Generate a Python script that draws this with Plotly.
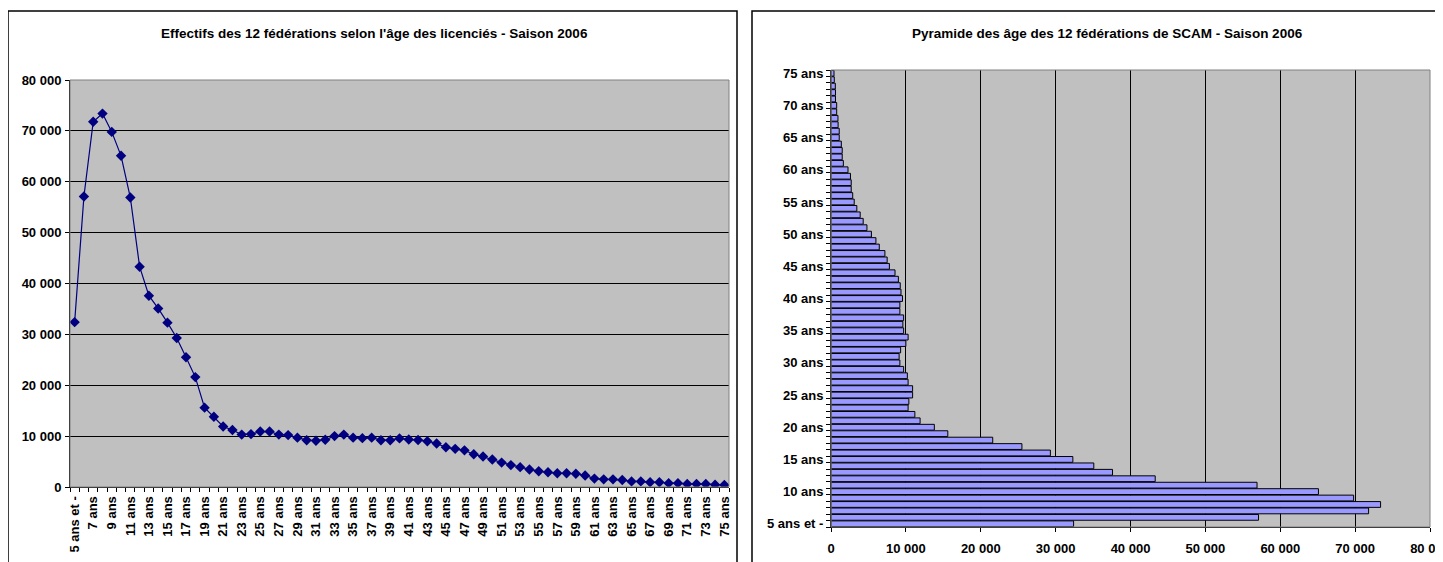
import plotly.graph_objects as go

# ---- data ----
ages = ["5 ans et -"] + [f"{a} ans" for a in range(6, 76)]
effectifs = [
    32400, 57100, 71800, 73400, 69800, 65100, 56900, 43300, 37600, 35100,  # 5-14
    32300, 29300, 25500, 21600, 15600, 13800, 11900, 11200, 10300, 10400,  # 15-24
    10900, 10900, 10300, 10200, 9700, 9200, 9100, 9300, 10000, 10300,      # 25-34
    9700, 9600, 9700, 9200, 9200, 9550, 9350, 9250, 9000, 8550,            # 35-44
    7800, 7500, 7200, 6450, 6000, 5400, 4800, 4300, 3900, 3450,            # 45-54
    3100, 2900, 2700, 2700, 2600, 2270, 1650, 1500, 1500, 1380,            # 55-64
    1100, 1100, 950, 930, 760, 760, 600, 600, 580, 440,                    # 65-74
    400,                                                                   # 75
]
left_ticktext = [a if i % 2 == 0 else "" for i, a in enumerate(ages)]
right_ticktext = [a if i % 5 == 0 else "" for i, a in enumerate(ages)]
title_left = "Effectifs des 12 fédérations selon l'âge des licenciés - Saison 2006"
title_right = "Pyramide des âge des 12 fédérations de SCAM - Saison 2006"

W, H = 1443, 562
OFF = 8  # page body margin
FONT = "Liberation Sans, Arial, sans-serif"


def px(x):
    return (x - OFF) / W


def py(y):
    return 1 - (y - OFF) / H


fig = go.Figure()

fig.add_trace(go.Scatter(
    x=ages, y=effectifs, mode="lines+markers",
    line=dict(color="#000080", width=1.2),
    marker=dict(symbol="diamond", size=8, color="#000080"),
    xaxis="x", yaxis="y", showlegend=False,
))

fig.add_trace(go.Bar(
    y=ages, x=effectifs, orientation="h",
    marker=dict(color="#9999FF", line=dict(color="#000000", width=1)),
    xaxis="x2", yaxis="y2", showlegend=False,
))

tickfont = dict(family=FONT, size=13, color="#000000", weight="bold")
titlefont = dict(family=FONT, size=13.5, color="black", weight="bold")

fig.update_layout(
    template="none",
    width=W, height=H,
    autosize=False,
    margin=dict(l=0, r=0, t=0, b=0, pad=0),
    paper_bgcolor="white",
    plot_bgcolor="#C0C0C0",
    separators=", ",
    bargap=0.1,
    xaxis=dict(
        domain=[px(70), px(729)], anchor="y", automargin=False,
        type="category", range=[-0.5, 70.5],
        tickvals=ages, ticktext=left_ticktext, tickangle=-90,
        tickson="boundaries", ticks="outside", ticklen=4, tickcolor="black",
        ticklabelstandoff=3,
        showgrid=False, showline=True, linecolor="black", linewidth=1,
        tickfont=tickfont, zeroline=False,
    ),
    yaxis=dict(
        domain=[py(487), py(80)], anchor="x", automargin=False,
        range=[0, 80000], dtick=10000, tickformat=",d",
        ticks="outside", ticklen=4, tickcolor="black",
        ticklabelstandoff=1,
        showgrid=True, gridcolor="black", gridwidth=1,
        showline=True, linecolor="black", linewidth=1,
        tickfont=tickfont, zeroline=False,
    ),
    xaxis2=dict(
        domain=[px(831), px(1430)], anchor="y2", automargin=False,
        range=[0, 80000], dtick=10000, tickformat=",d",
        ticks="outside", ticklen=4, tickcolor="black",
        ticklabelstandoff=5,
        showgrid=True, gridcolor="black", gridwidth=1,
        showline=True, linecolor="black", linewidth=1,
        tickfont=tickfont, zeroline=False,
    ),
    yaxis2=dict(
        domain=[py(527), py(70)], anchor="x2", automargin=False,
        type="category", range=[-0.5, 70.5],
        tickvals=ages, ticktext=right_ticktext,
        tickson="boundaries", ticks="outside", ticklen=4, tickcolor="black",
        ticklabelstandoff=4,
        showgrid=False, showline=True, linecolor="black", linewidth=1,
        tickfont=tickfont, zeroline=False,
    ),
    annotations=[
        dict(text=title_left, x=px(374), y=py(34), xref="paper", yref="paper",
             showarrow=False, xanchor="center", yanchor="middle",
             font=titlefont),
        dict(text=title_right, x=px(1107), y=py(34), xref="paper", yref="paper",
             showarrow=False, xanchor="center", yanchor="middle",
             font=titlefont),
    ],
    shapes=[
        # chart frames
        dict(type="rect", xref="paper", yref="paper",
             x0=px(8), x1=px(737), y0=py(620), y1=py(11),
             line=dict(color="black", width=1.5), fillcolor="rgba(0,0,0,0)"),
        dict(type="rect", xref="paper", yref="paper",
             x0=px(752), x1=px(1500), y0=py(620), y1=py(11),
             line=dict(color="black", width=1.5), fillcolor="rgba(0,0,0,0)"),
        # plot-area borders (grey)
        dict(type="rect", xref="x domain", yref="y domain",
             x0=0, x1=1, y0=0, y1=1, line=dict(color="#808080", width=1)),
        dict(type="rect", xref="x2 domain", yref="y2 domain",
             x0=0, x1=1, y0=0, y1=1, line=dict(color="#808080", width=1)),
    ],
)

fig.write_html("out.html")
